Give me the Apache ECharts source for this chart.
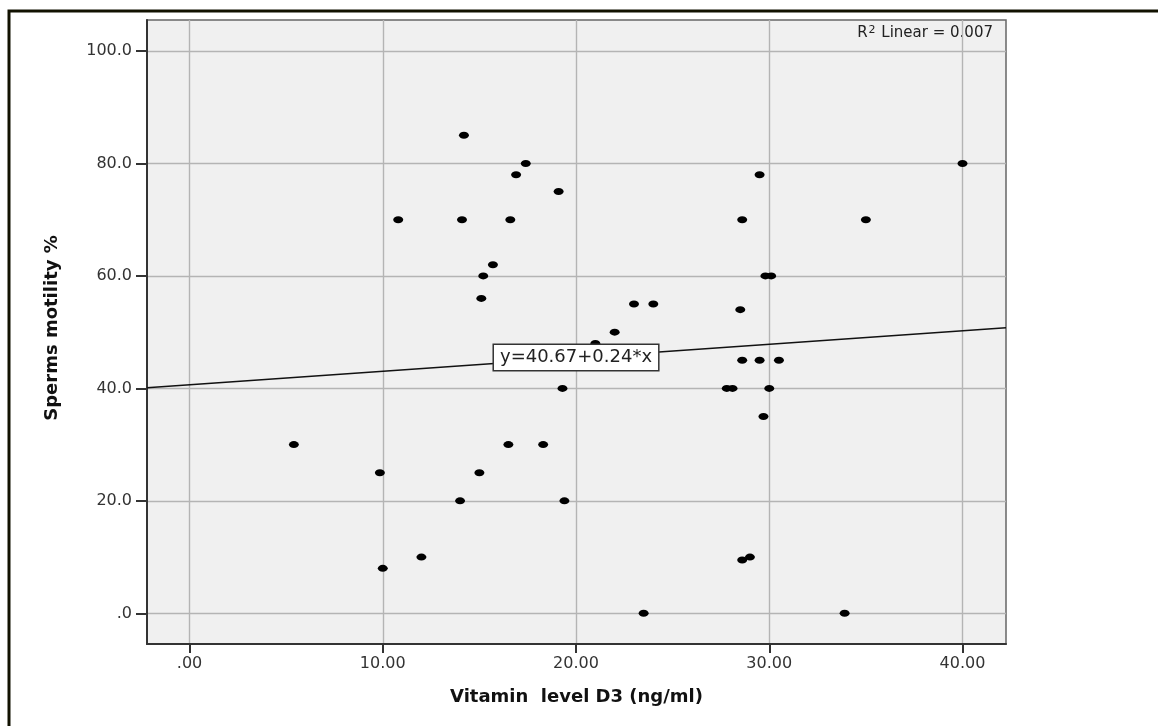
<!DOCTYPE html>
<html>
<head>
<meta charset="utf-8">
<title>Vitamin D3 vs sperm motility</title>
<script src="https://cdn.jsdelivr.net/npm/echarts@6/dist/echarts.min.js"></script>
<style>
  html, body { margin: 0; padding: 0; background: #fff; }
  #chart { width: 1158px; height: 726px; }
</style>
</head>
<body>
<div id="chart"></div>
<script>
// points (x = vitamin D3, y = motility)
const vitaminD3 = [5.4, 9.85, 10.0, 10.8, 12.0, 14.0, 14.1, 14.2, 15.0, 15.1, 15.2, 15.7, 16.5, 16.6,
  16.9, 17.4, 18.3, 19.1, 19.3, 19.4, 21.0, 22.0, 23.0, 23.5, 24.0, 27.8, 28.1, 28.5, 28.6, 28.6,
  28.6, 29.0, 29.5, 29.5, 29.7, 29.8, 30.0, 30.1, 30.5, 33.9, 35.0, 40.0];
const motility = [30, 25, 8, 70, 10, 20, 70, 85, 25, 56, 60, 62, 30, 70,
  78, 80, 30, 75, 40, 20, 48, 50, 55, 0, 55, 40, 40, 54, 70, 45,
  9.5, 10, 78, 45, 35, 60, 40, 60, 45, 0, 70, 80];

// fit line, ends read at the plot edges
const fitX = [-2.2, 42.25];
const fitY = [40.1, 50.8];
const fitLabel = 'y=40.67+0.24*x';
const fitLabelAt = [20, 45.5];
const r2Value = '0.007';

const xTicks = [0, 10, 20, 30, 40];
const yTicks = [0, 20, 40, 60, 80, 100];

const font = 'DejaVu Sans';
let myChart = echarts.init(document.getElementById('chart'));

myChart.setOption({
  animation: false,
  grid: {
    left: 147, top: 20, right: 152, bottom: 82,
    show: true,
    backgroundColor: '#f0f0f0',
    borderColor: '#666',
    borderWidth: 1.5
  },
  graphic: [
    {
      type: 'polyline',
      shape: { points: [[9, 726], [9, 11], [1158, 11]] },
      style: { stroke: '#111100', lineWidth: 3, fill: null }
    },
    {
      type: 'text',
      right: 1158 - 993,
      top: 25,
      style: {
        text: '{a|R}{s|2}{a| Linear = ' + r2Value + '}',
        rich: {
          a: { fontFamily: font, fontSize: 15, fill: '#222' },
          s: { fontFamily: font, fontSize: 11, fill: '#222', verticalAlign: 'top', padding: [0, 1, 6, 1] }
        }
      }
    }
  ],
  xAxis: {
    type: 'value',
    min: fitX[0],
    max: fitX[1],
    splitNumber: 9,
    name: 'Vitamin  level D3 (ng/ml)',
    nameLocation: 'middle',
    nameGap: 44,
    nameTextStyle: { fontFamily: font, fontSize: 18, fontWeight: 'bold', color: '#111' },
    axisLine: { onZero: false, lineStyle: { color: '#333', width: 2 } },
    axisTick: { customValues: xTicks, length: 9, lineStyle: { color: '#333', width: 2 } },
    axisLabel: {
      customValues: xTicks,
      margin: 12,
      fontFamily: font,
      fontSize: 16,
      color: '#333',
      formatter: v => (v === 0 ? '.00' : v.toFixed(2))
    },
    splitLine: { show: true, lineStyle: { color: '#b4b4b4', width: 1.4 } }
  },
  yAxis: {
    type: 'value',
    min: -5.45,
    max: 105.5,
    splitNumber: 11,
    name: 'Sperms motility %',
    nameLocation: 'middle',
    nameGap: 86,
    nameTextStyle: { fontFamily: font, fontSize: 18, fontWeight: 'bold', color: '#111', padding: [0, 0, 0, 8] },
    axisLine: { onZero: false, lineStyle: { color: '#333', width: 2 } },
    axisTick: { customValues: yTicks, length: 11, lineStyle: { color: '#333', width: 2 } },
    axisLabel: {
      customValues: yTicks,
      margin: 15,
      fontFamily: font,
      fontSize: 16,
      color: '#333',
      formatter: v => (v === 0 ? '.0' : v.toFixed(1))
    },
    splitLine: { show: true, lineStyle: { color: '#b4b4b4', width: 1.4 } }
  },
  series: [
    {
      name: 'fit',
      type: 'line',
      data: fitX.map((x, i) => [x, fitY[i]]),
      symbol: 'none',
      lineStyle: { color: '#111', width: 1.5 },
      z: 3,
      markPoint: {
        symbol: 'rect',
        symbolSize: 0,
        data: [{ coord: fitLabelAt }],
        label: {
          show: true,
          position: 'inside',
          formatter: fitLabel,
          fontFamily: font,
          fontSize: 18,
          color: '#222',
          backgroundColor: '#fff',
          borderColor: '#333',
          borderWidth: 1.5,
          padding: [4, 6, 3, 6]
        }
      }
    },
    {
      name: 'points',
      type: 'scatter',
      data: vitaminD3.map((x, i) => [x, motility[i]]),
      symbol: 'circle',
      symbolSize: [10, 7],
      itemStyle: { color: '#000', opacity: 1 },
      z: 4
    }
  ]
});
</script>
</body>
</html>
